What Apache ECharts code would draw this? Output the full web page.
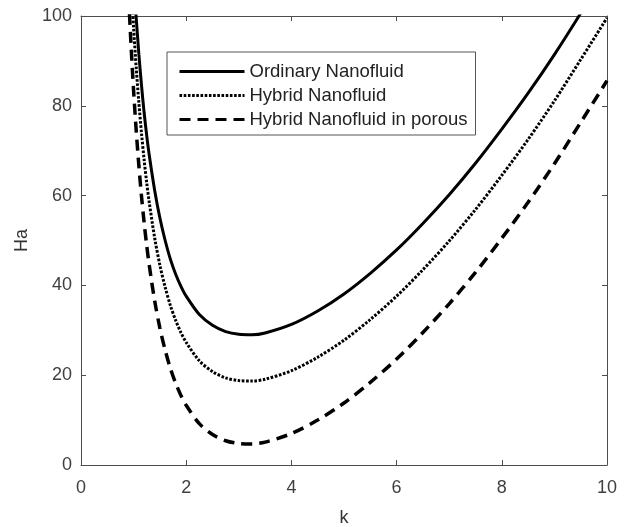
<!DOCTYPE html>
<html>
<head>
<meta charset="utf-8">
<script src="https://cdn.jsdelivr.net/npm/echarts@6/dist/echarts.min.js"></script>
<style>
  html, body { margin: 0; padding: 0; background: #fff; }
  #chart { width: 624px; height: 527px; }
</style>
</head>
<body>
<div id="chart"></div>
<script>
// wave number k (shared by all three curves)
var kValues = [0.85, 0.9, 0.95, 1.0, 1.05, 1.1, 1.15, 1.2, 1.25, 1.3, 1.4, 1.5, 1.6, 1.7, 1.8, 1.9, 2.0,
  2.25, 2.5, 2.75, 3.0, 3.25, 3.5, 4, 4.5, 5, 5.5, 6, 6.5, 7, 7.5, 8, 8.5, 9, 9.5, 10];

// Ha
var ordinary = [144.8, 130.3, 118.1, 107.7, 99.5, 91.5, 84.6, 78.5, 73.3, 68.8, 61.2, 55.0, 50.0, 45.8, 42.5, 39.8, 37.6,
  33.5, 31.1, 29.7, 29.1, 29.0, 29.4, 31.3, 34.3, 38.1, 42.7, 47.9, 53.8, 60.2, 67.2, 74.8, 82.8, 91.4, 100.6, 110.2];
var hybrid = [134.5, 120.0, 107.8, 97.4, 88.4, 80.7, 73.9, 68.0, 62.8, 58.3, 50.6, 44.5, 39.6, 35.5, 32.2, 29.5, 27.3,
  23.2, 20.8, 19.4, 18.8, 18.7, 19.1, 21.0, 24.0, 27.8, 32.4, 37.6, 43.5, 49.9, 56.9, 64.5, 72.5, 81.1, 90.3, 99.6];
var hybridPorous = [120.5, 106.0, 93.8, 83.4, 74.4, 66.7, 59.9, 54.0, 48.8, 44.3, 36.6, 30.5, 25.6, 21.5, 18.2, 15.5, 13.3,
  9.2, 6.8, 5.4, 4.8, 4.7, 5.1, 7.0, 10.0, 13.8, 18.4, 23.6, 29.5, 35.9, 42.9, 50.5, 58.5, 67.1, 76.3, 85.6];

var seriesNames = ['Ordinary Nanofluid', 'Hybrid Nanofluid', 'Hybrid Nanofluid in porous'];

function pairs(vals) {
  return kValues.map(function (k, i) { return [k, vals[i]]; });
}

var axisColor = '#4d4d4d';
var font = 'Liberation Sans, Arial, sans-serif';

function xAx(pos, labels) {
  return {
    type: 'value', position: pos, min: 0, max: 10, interval: 2,
    name: labels ? 'k' : '', nameLocation: 'middle', nameGap: 44,
    nameTextStyle: { color: '#333', fontSize: 18, fontFamily: font },
    axisLine: { show: true, onZero: false, lineStyle: { color: axisColor, width: 1 } },
    axisTick: { show: true, inside: true, length: 5, lineStyle: { color: axisColor } },
    axisLabel: { show: labels, color: '#404040', fontSize: 18, fontFamily: font, margin: 14 },
    splitLine: { show: false }
  };
}
function yAx(pos, labels) {
  return {
    type: 'value', position: pos, min: 0, max: 100, interval: 20,
    name: labels ? 'Ha' : '', nameLocation: 'middle', nameGap: 50, nameRotate: 90,
    nameTextStyle: { color: '#333', fontSize: 18, fontFamily: font },
    axisLine: { show: true, onZero: false, lineStyle: { color: axisColor, width: 1 } },
    axisTick: { show: true, inside: true, length: 5, lineStyle: { color: axisColor } },
    axisLabel: { show: labels, color: '#404040', fontSize: 18, fontFamily: font, margin: 9 },
    splitLine: { show: false }
  };
}

var chart = echarts.init(document.getElementById('chart'));
chart.setOption({
  animation: false,
  backgroundColor: '#fff',
  grid: { left: 81, right: 17, top: 16, bottom: 62, containLabel: false, outerBoundsMode: 'none' },
  legend: {
    orient: 'vertical',
    left: 167, top: 52,
    data: seriesNames,
    itemWidth: 65, itemHeight: 18, itemGap: 5,
    padding: [10, 8, 6, 11],
    borderColor: '#555', borderWidth: 1,
    backgroundColor: '#fff',
    itemStyle: { opacity: 0, borderWidth: 0 },
    lineStyle: { width: 3 },
    textStyle: { color: '#222', fontSize: 18.5, fontFamily: font }
  },
  xAxis: [xAx('bottom', true), xAx('top', false)],
  yAxis: [yAx('left', true), yAx('right', false)],
  series: [
    {
      name: seriesNames[0], type: 'line', data: pairs(ordinary), smooth: 0.3,
      symbol: 'none', clip: true, color: '#000',
      lineStyle: { color: '#000', width: 3, type: 'solid' }
    },
    {
      name: seriesNames[1], type: 'line', data: pairs(hybrid), smooth: 0.3,
      symbol: 'none', clip: true, color: '#000',
      lineStyle: { color: '#000', width: 3, type: [2.6, 1.6] }
    },
    {
      name: seriesNames[2], type: 'line', data: pairs(hybridPorous), smooth: 0.3,
      symbol: 'none', clip: true, color: '#000',
      lineStyle: { color: '#000', width: 3.5, type: [11, 7] }
    }
  ]
});
</script>
</body>
</html>
